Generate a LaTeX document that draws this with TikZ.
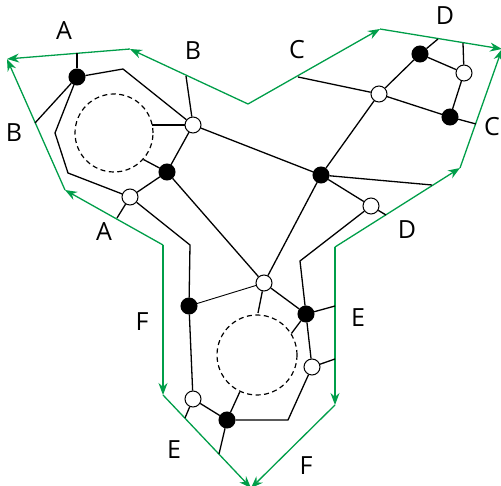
\documentclass[tikz,border=0pt]{standalone}
\usepackage{fontspec}
\setmainfont{Open Sans}
\usepackage{xcolor}
\usetikzlibrary{arrows.meta}
\definecolor{glue}{RGB}{0,158,73}

\begin{document}
\begin{tikzpicture}[
x=1pt,y=-1pt,
Full/.style={circle,draw=black,fill=black,line width=1pt,minimum size=16pt,inner sep=0pt},
Empty/.style={circle,draw=black,fill=white,line width=1pt,minimum size=16pt,inner sep=0pt},
Edges/.style={draw=black,line width=1.3pt},
Glue/.style={draw=glue,line width=1.3pt,-{Stealth[length=12pt,width=9pt]}},
Hole/.style={circle,draw=black,dash pattern=on 5pt off 3.5pt,line width=1.2pt,inner sep=0pt},
Side/.style={inner sep=0pt,font=\fontsize{25}{30}\selectfont}
]
\useasboundingbox (0,0) rectangle (501,486);

% corners, cusps and midpoints of the glued boundary
\coordinate (AB) at (7,59);
\coordinate (CD) at (502,49);
\coordinate (EF) at (251,488);
\coordinate (Pt) at (248,104);
\coordinate (Pl) at (163,245);
\coordinate (Pr) at (335,247);
\coordinate (Ma) at (130,49);
\coordinate (Mb) at (65,190);
\coordinate (Mc) at (380,29);
\coordinate (Md) at (460,168);
\coordinate (Me) at (335,405);
\coordinate (Mf) at (163,395);

\draw[Glue] (Pt)--(Ma);
\draw[Glue] (Ma)--(AB);
\draw[Glue] (Pl)--(Mb);
\draw[Glue] (Mb)--(AB);
\draw[Glue] (Pt)--(Mc);
\draw[Glue] (Mc)--(CD);
\draw[Glue] (Pr)--(Md);
\draw[Glue] (Md)--(CD);
\draw[Glue] (Pl)--(Mf);
\draw[Glue] (Mf)--(EF);
\draw[Glue] (Pr)--(Me);
\draw[Glue] (Me)--(EF);

% side labels
\node[Side] (la1) at (64,31) {A};
\node[Side] (lb1) at (193,51) {B};
\node[Side] (lc1) at (297,50) {C};
\node[Side] (ld1) at (445,16) {D};
\node[Side] (lc2) at (492,127) {C};
\node[Side] (ld2) at (407,230) {D};
\node[Side] (le1) at (358,318) {E};
\node[Side] (lf1) at (306,466) {F};
\node[Side] (le2) at (174,450) {E};
\node[Side] (lf2) at (142,322) {F};
\node[Side] (la2) at (104,232) {A};
\node[Side] (lb2) at (14,133) {B};

% holes
\node[Hole,minimum size=78pt] (h1) at (114,133) {};
\node[Hole,minimum size=80pt] (h2) at (257,355) {};

% vertices
\node[Full]  (b1) at (77,77) {};
\node[Empty] (w2) at (193,125) {};
\node[Full]  (b2) at (167,172) {};
\node[Empty] (w1) at (130,197) {};
\node[Full]  (b3) at (189,306) {};
\node[Empty] (w3) at (264,283) {};
\node[Full]  (b4) at (321,175) {};
\node[Empty] (w4) at (379,94) {};
\node[Full]  (b5) at (420,54) {};
\node[Empty] (w5) at (464,73) {};
\node[Full]  (b6) at (450,117) {};
\node[Empty] (w6) at (371,206) {};
\node[Full]  (b7) at (306,314) {};
\node[Empty] (w7) at (312,367) {};
\node[Empty] (w8) at (193,399) {};
\node[Full]  (b8) at (227,420) {};

% edges
\draw[Edges] (b1)--(77,53);
\draw[Edges] (b1)--(35,123);
\draw[Edges] (b1)--(55,133)--(68,173)--(w1);
\draw[Edges] (b1)--(123,69)--(w2);
\draw[Edges] (w2)--(186,76);
\draw[Edges] (w2)--(152,125);
\draw[Edges] (w2)--(b2);
\draw[Edges] (b2)--(h1.-42);
\draw[Edges] (b2)--(w1);
\draw[Edges] (w1)--(117,218);
\draw[Edges] (w1)--(190,245)--(b3);
\draw[Edges] (b2)--(w3);
\draw[Edges] (w2)--(b4);
\draw[Edges,line width=0.9pt] (b3)--(w3);
\draw[Edges] (w3)--(258,313);
\draw[Edges] (w3)--(b7);
\draw[Edges] (w3)--(b4);
\draw[Edges] (b4)--(w4);
\draw[Edges] (b4)--(432,185);
\draw[Edges] (b4)--(w6);
\draw[Edges] (w6)--(386,215);
\draw[Edges] (w6)--(300,261)--(b7);
\draw[Edges] (w4)--(298,77);
\draw[Edges] (w4)--(b6);
\draw[Edges] (w4)--(b5);
\draw[Edges] (b5)--(438,39);
\draw[Edges] (b5)--(w5);
\draw[Edges] (w5)--(463,43);
\draw[Edges] (w5)--(b6);
\draw[Edges] (b6)--(476,124);
\draw[Edges] (b7)--(335,306);
\draw[Edges] (b7)--(h2.32);
\draw[Edges] (b7)--(w7);
\draw[Edges] (w7)--(335,359);
\draw[Edges] (w7)--(288,420)--(b8);
\draw[Edges] (b8)--(h2.-115);
\draw[Edges] (b8)--(w8);
\draw[Edges] (b8)--(219,454);
\draw[Edges] (w8)--(185,418);
\draw[Edges] (w8)--(b3);

\end{tikzpicture}
\end{document}
